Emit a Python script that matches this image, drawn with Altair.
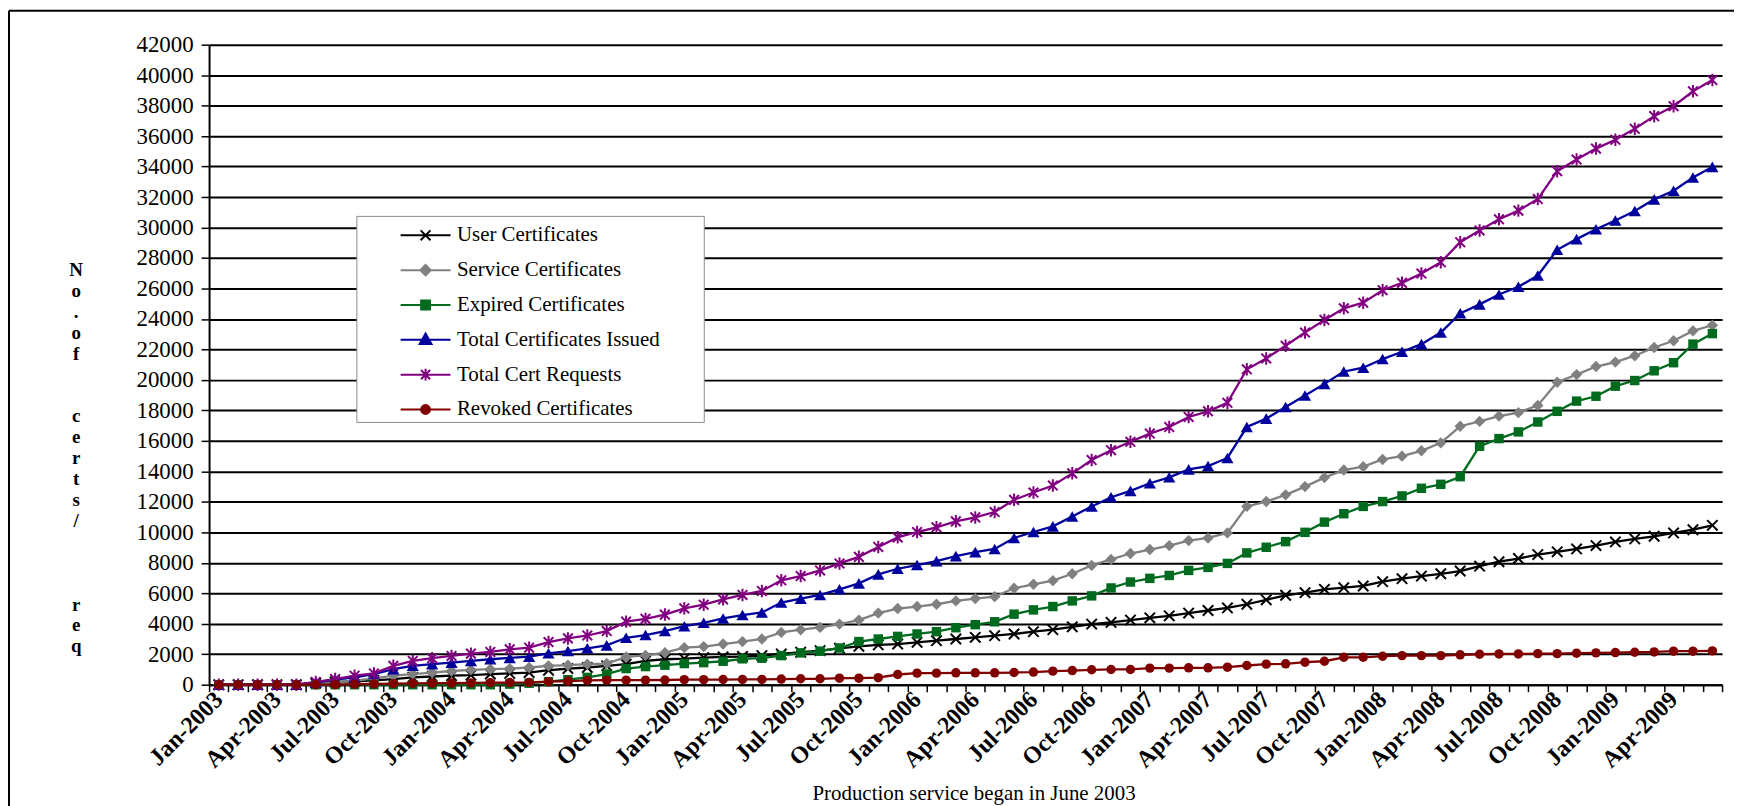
import altair as alt
import pandas as pd

MONTH_NAMES = ["Jan", "Feb", "Mar", "Apr", "May", "Jun", "Jul", "Aug", "Sep", "Oct", "Nov", "Dec"]
months = [f"{m}-{y}" for y in range(2003, 2010) for m in MONTH_NAMES][:78]

user = [0, 0, 0, 0, 0, 100, 180, 220, 280, 370,
        480, 540, 590, 630, 700, 740, 800, 950, 1060, 1130,
        1240, 1350, 1560, 1670, 1710, 1780, 1820, 1850, 1910, 2020,
        2130, 2240, 2390, 2520, 2610, 2670, 2780, 2890, 3000, 3110,
        3220, 3330, 3480, 3610, 3800, 3980, 4090, 4240, 4390, 4520,
        4700, 4870, 5040, 5280, 5570, 5870, 6040, 6260, 6370, 6480,
        6760, 6960, 7130, 7280, 7460, 7780, 8070, 8280, 8540, 8720,
        8910, 9130, 9370, 9570, 9740, 9960, 10170, 10460]
service = [0, 0, 0, 0, 0, 50, 150, 260, 410, 590,
           700, 800, 900, 980, 1020, 1060, 1130, 1240, 1280, 1350,
           1390, 1820, 1930, 2100, 2430, 2500, 2670, 2830, 3000, 3430,
           3610, 3760, 3980, 4240, 4700, 5000, 5130, 5280, 5500, 5650,
           5780, 6330, 6590, 6830, 7280, 7830, 8220, 8610, 8870, 9130,
           9460, 9630, 9960, 11700, 12020, 12460, 13000, 13590, 14090, 14310,
           14780, 15000, 15350, 15870, 16960, 17280, 17630, 17850, 18330, 19850,
           20350, 20880, 21170, 21590, 22130, 22570, 23220, 23590]
expired = [0, 0, 0, 0, 0, 0, 0, 0, 0, 0,
           0, 0, 0, 0, 0, 40, 100, 200, 330, 480,
           700, 1060, 1190, 1280, 1390, 1450, 1540, 1700, 1740, 1910,
           2090, 2200, 2410, 2830, 3000, 3170, 3330, 3480, 3740, 3940,
           4130, 4630, 4910, 5130, 5500, 5830, 6350, 6740, 6980, 7170,
           7500, 7700, 7960, 8650, 9020, 9390, 10000, 10670, 11220, 11700,
           12020, 12390, 12890, 13150, 13650, 15650, 16150, 16590, 17240, 17940,
           18610, 18930, 19590, 19960, 20600, 21130, 22350, 23040]
issued = [0, 0, 0, 0, 0, 150, 330, 480, 700, 1020,
          1240, 1350, 1450, 1560, 1670, 1760, 1840, 2060, 2210, 2390,
          2580, 3080, 3260, 3520, 3840, 4060, 4350, 4570, 4740, 5390,
          5650, 5890, 6260, 6650, 7240, 7610, 7850, 8110, 8440, 8700,
          8910, 9630, 10020, 10390, 11040, 11700, 12300, 12720, 13220, 13610,
          14130, 14350, 14880, 16910, 17460, 18220, 18980, 19740, 20550, 20800,
          21370, 21850, 22350, 23110, 24370, 24960, 25610, 26110, 26850, 28540,
          29240, 29890, 30460, 31090, 31850, 32410, 33280, 33980]
requests = [0, 0, 0, 0, 0, 180, 370, 590, 740, 1240,
            1560, 1740, 1890, 2040, 2150, 2320, 2430, 2800, 3040, 3230,
            3520, 4140, 4320, 4600, 5010, 5250, 5600, 5890, 6150, 6850,
            7130, 7500, 7960, 8390, 9040, 9670, 10020, 10330, 10720, 10980,
            11330, 12130, 12610, 13070, 13870, 14740, 15390, 15940, 16480, 16910,
            17570, 17940, 18500, 20700, 21410, 22240, 23110, 23940, 24700, 25070,
            25890, 26370, 26980, 27720, 29040, 29810, 30540, 31110, 31870, 33700,
            34460, 35180, 35760, 36480, 37310, 37960, 38940, 39680]
revoked = [0, 0, 0, 0, 0, 0, 10, 30, 50, 70,
           90, 100, 110, 120, 130, 140, 150, 200, 240, 280,
           300, 300, 300, 310, 330, 330, 340, 350, 350, 370,
           390, 390, 430, 430, 460, 670, 760, 760, 780, 780,
           780, 800, 830, 890, 930, 980, 1000, 1000, 1090, 1090,
           1110, 1110, 1150, 1260, 1350, 1370, 1480, 1540, 1800, 1800,
           1870, 1910, 1910, 1910, 1960, 2000, 2020, 2020, 2040, 2040,
           2070, 2090, 2110, 2130, 2150, 2200, 2200, 2220]

series_names = ["User Certificates", "Service Certificates", "Expired Certificates",
                "Total Certificates Issued", "Total Cert Requests", "Revoked Certificates"]
series_values = [user, service, expired, issued, requests, revoked]
series_colors = ["#000000", "#808080", "#006B1E", "#00009C", "#800080", "#800000"]

# marker styles: (shape, filled, size)
X_PATH = "M-1,-1L1,1M-1,1L1,-1"
STAR_PATH = "M-0.85,-0.85L0.85,0.85M-0.85,0.85L0.85,-0.85M0,-1.1V1.1"
marker_styles = [(X_PATH, False, 110), ("diamond", True, 130), ("square", True, 90),
                 ("triangle-up", True, 150), (STAR_PATH, False, 130), ("circle", True, 90)]

LINE = "M-1.52,0H1.52"
legend_paths = [
    LINE + "M-0.3,-0.3L0.3,0.3M-0.3,0.3L0.3,-0.3",
    LINE + "M0,-0.32L0.32,0L0,0.32L-0.32,0Z",
    LINE + "M-0.27,-0.27H0.27V0.27H-0.27Z",
    LINE + "M0,-0.38L0.36,0.26H-0.36Z",
    LINE + "M-0.28,-0.28L0.28,0.28M-0.28,0.28L0.28,-0.28M0,-0.36V0.36",
    LINE + "M-0.27,0A0.27,0.27,0,1,0,0.27,0A0.27,0.27,0,1,0,-0.27,0Z",
]

rows = []
for name, vals in zip(series_names, series_values):
    for m, v in zip(months, vals):
        rows.append({"month": m, "series": name, "value": v})
df = pd.DataFrame(rows)

SERIF = "Liberation Serif"
GAP = "\u200b\u00a0\u00a0\u200b"  # blank spacer line that keeps its height
y_title = ["N", "o", ".", "o", "f", GAP, GAP, "c", "e", "r", "t", "s", "/", GAP, GAP, GAP, "r", "e", "q"]

label_expr = ("(substring(datum.value, 0, 3) == 'Jan' || substring(datum.value, 0, 3) == 'Apr' || "
              "substring(datum.value, 0, 3) == 'Jul' || substring(datum.value, 0, 3) == 'Oct') "
              "? datum.value : ''")

x_enc = alt.X(
    "month:O",
    bandPosition=0.5,
    scale=alt.Scale(type="band", domain=months, paddingInner=0, paddingOuter=0),
    axis=alt.Axis(
        labelExpr=label_expr,
        labelAngle=-45, labelAlign="right", labelBaseline="middle",
        labelFont=SERIF, labelFontSize=24, labelFontWeight="bold", labelColor="black",
        labelPadding=4, labelOverlap=False, labelBound=False,
        tickBand="extent", ticks=True, tickSize=7, tickColor="black", tickWidth=1.5,
        domainColor="black", domainWidth=2, grid=False,
        title="Production service began in June 2003",
        titleFont=SERIF, titleFontSize=21, titleFontWeight="normal", titleColor="black",
        titleX=768, titleY=109, titleAlign="center", titleBaseline="middle",
    ),
)
y_enc = alt.Y(
    "value:Q",
    scale=alt.Scale(domain=[0, 42000], nice=False),
    axis=alt.Axis(
        values=list(range(0, 42001, 2000)), format="d",
        labelFont=SERIF, labelFontSize=23, labelColor="black", labelPadding=8,
        tickSize=8, tickColor="black", tickWidth=1.5,
        domainColor="black", domainWidth=2,
        grid=True, gridColor="black", gridWidth=2,
        title=y_title, titleFont=SERIF, titleFontSize=19, titleFontWeight="bold",
        titleColor="black", titleAngle=0, titleX=-134, titleY=217,
        titleAlign="center", titleBaseline="top", titleLineHeight=21,
    ),
)

base = alt.Chart(df)
layers = []
for name, color, (shape, filled, size) in zip(series_names, series_colors, marker_styles):
    sub = base.transform_filter(alt.datum.series == name)
    layers.append(sub.mark_line(color=color, strokeWidth=2.3).encode(x=x_enc, y=y_enc))
    if filled:
        pm = sub.mark_point(shape=shape, filled=True, color=color, size=size, opacity=1)
    else:
        pm = sub.mark_point(shape=shape, filled=False, color=color, size=size,
                            strokeWidth=2, opacity=1)
    layers.append(pm.encode(x=x_enc, y=y_enc))

legend = alt.Legend(
    title=None, orient="none", legendX=148, legendY=172,
    padding=2, symbolSize=1089, symbolStrokeWidth=2, symbolOffset=50, labelOffset=14,
    symbolOpacity=1,
    labelFont=SERIF, labelFontSize=21, labelColor="black", labelLimit=600,
    labelExpr="datum.label + '\u00a0\u00a0\u00a0\u00a0\u00a0\u00a0\u00a0\u00a0' + '\u200b'",
    rowPadding=7, strokeColor="#8c8c8c", fillColor="white",
)
legend_layer = base.transform_filter("datum.value < 0").mark_point(filled=True, opacity=1).encode(
    fill=alt.Fill("series:N", scale=alt.Scale(domain=series_names, range=series_colors), legend=legend),
    stroke=alt.Stroke("series:N", scale=alt.Scale(domain=series_names, range=series_colors), legend=legend),
    shape=alt.Shape("series:N", scale=alt.Scale(domain=series_names, range=legend_paths), legend=legend),
)

frame_df = pd.DataFrame({"k": [0]})
frame_top = alt.Chart(frame_df).mark_rule(color="black", strokeWidth=2).encode(
    x=alt.value(-201), x2=alt.value(1532), y=alt.value(-34))
frame_left = alt.Chart(frame_df).mark_rule(color="black", strokeWidth=2).encode(
    x=alt.value(-201), y=alt.value(-34), y2=alt.value(765))

chart = alt.layer(*layers, legend_layer, frame_top, frame_left).properties(
    width=1520, height=643,
    autosize=alt.AutoSizeParams(type="none"),
    padding={"left": 202, "top": 35, "right": 13, "bottom": 120},
    background="white",
).configure_view(stroke=None)

chart.save("out.html", embed_options={"renderer": "svg", "actions": False})
